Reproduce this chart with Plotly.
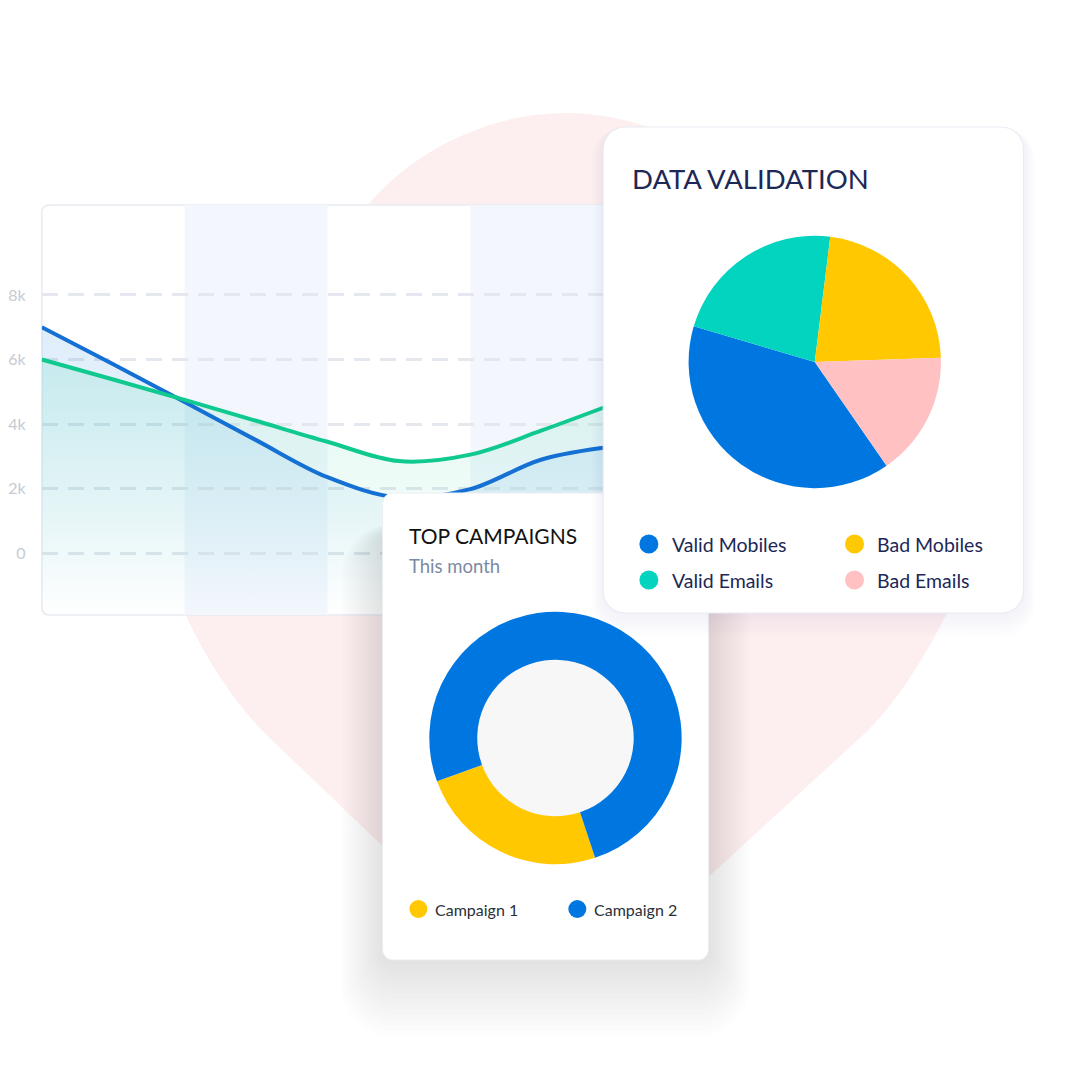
import math
import plotly.graph_objects as go

# ── Canvas ────────────────────────────────────────────────────────────────────
W, H = 1080, 1066
OFF = 8          # page body margin: the figure sits 8px in from the window edge
FONT = "Lato"

# ── Data ──────────────────────────────────────────────────────────────────────
LINE_X = [0, 1, 2, 3, 4, 5, 6, 7, 8]
BLUE_SERIES = [7000, 5850, 4680, 3500, 2350, 1720, 1980, 2900, 3300]
GREEN_SERIES = [6000, 5380, 4750, 4100, 3450, 2850, 3050, 3800, 4620]
Y_TICKS = [0, 2000, 4000, 6000, 8000]
Y_TICK_TEXT = ["0", "2k", "4k", "6k", "8k"]
Y_RANGE = [-1922, 10790]
BANDS = [(2, 4), (6, 8)]

VALIDATION_LABELS = ["Valid Mobiles", "Valid Emails", "Bad Mobiles", "Bad Emails"]
VALIDATION_VALUES = [39.2, 22.4, 22.5, 15.9]
VALIDATION_COLOURS = ["#0077E0", "#03D4BF", "#FFC800", "#FFC1C1"]

CAMPAIGN_LABELS = ["Campaign 1", "Campaign 2"]
CAMPAIGN_VALUES = [24.5, 75.5]
CAMPAIGN_COLOURS = ["#FFC800", "#0077E0"]

# ── Colours ───────────────────────────────────────────────────────────────────
NAVY = "#1D2856"
BLUE_LINE = "#1570D3"
GREEN_LINE = "#10C98F"
PINK_BG = "#FDEFEF"
CARD_BORDER = "#E7EBF1"


def px(x):
    return (x - OFF) / W


def py(y):
    return 1 - (y - OFF) / H


def paper_path(cmds):
    """cmds: list of (letter, [(x, y), ...]) in window pixels -> paper path string."""
    out = []
    for letter, pts in cmds:
        coords = " ".join(f"{px(x):.5f},{py(y):.5f}" for x, y in pts)
        out.append(f"{letter}{coords}")
    return " ".join(out) + " Z"


def rr_paper(x0, y0, x1, y1, r):
    return paper_path([
        ("M", [(x0 + r, y0)]), ("L", [(x1 - r, y0)]), ("Q", [(x1, y0), (x1, y0 + r)]),
        ("L", [(x1, y1 - r)]), ("Q", [(x1, y1), (x1 - r, y1)]), ("L", [(x0 + r, y1)]),
        ("Q", [(x0, y1), (x0, y1 - r)]), ("L", [(x0, y0 + r)]), ("Q", [(x0, y0), (x0 + r, y0)]),
    ])


def rr_points(x0, y0, x1, y1, r, n=10):
    xs, ys = [], []
    corners = [(x1 - r, y0 + r, -90, 0), (x1 - r, y1 - r, 0, 90),
               (x0 + r, y1 - r, 90, 180), (x0 + r, y0 + r, 180, 270)]
    for cx, cy, a0, a1 in corners:
        for i in range(n + 1):
            a = math.radians(a0 + (a1 - a0) * i / n)
            xs.append(cx + r * math.cos(a))
            ys.append(cy + r * math.sin(a))
    xs.append(xs[0])
    ys.append(ys[0])
    return xs, ys


def circle_points(cx, cy, r, n=90):
    xs = [cx + r * math.cos(2 * math.pi * i / n) for i in range(n + 1)]
    ys = [cy + r * math.sin(2 * math.pi * i / n) for i in range(n + 1)]
    return xs, ys


fig = go.Figure()

# ── Line chart (xy) ──────────────────────────────────────────────────────────
base = [Y_RANGE[0]] * len(LINE_X)
for series, rgb in ((BLUE_SERIES, "0,119,224"), (GREEN_SERIES, "16,201,143")):
    fig.add_trace(go.Scatter(x=LINE_X, y=base, mode="lines", line=dict(width=0),
                             hoverinfo="skip", showlegend=False))
    fig.add_trace(go.Scatter(
        x=LINE_X, y=series, mode="lines", fill="tonexty",
        line=dict(width=0, shape="spline", smoothing=1),
        fillgradient=dict(type="vertical", colorscale=[
            [0.0, f"rgba({rgb},0)"], [0.35, f"rgba({rgb},0.05)"], [1.0, f"rgba({rgb},0.13)"]]),
        hoverinfo="skip", showlegend=False))

for series, colour in ((BLUE_SERIES, BLUE_LINE), (GREEN_SERIES, GREEN_LINE)):
    fig.add_trace(go.Scatter(
        x=LINE_X, y=series, mode="lines",
        line=dict(color=colour, width=4, shape="spline", smoothing=1),
        hoverinfo="skip", showlegend=False))

# ── Decoration layer (x2/y2 in window pixels, drawn above the line chart) ─────
def deco(xs, ys, fill, line_colour="rgba(0,0,0,0)", width=0):
    fig.add_trace(go.Scatter(x=xs, y=ys, xaxis="x2", yaxis="y2", mode="lines",
                             fill="toself", fillcolor=fill,
                             line=dict(color=line_colour, width=width),
                             hoverinfo="skip", showlegend=False))


# campaigns card shadow + card
for k in range(1, 15):
    e, dy = 3 * k, 2.5 * k
    deco(*rr_points(378 - e, 530 - e + dy, 706 + e, 960 + e + dy, 12 + e), "rgba(40,40,60,0.0075)")
deco(*rr_points(378, 493, 706, 960, 10), "#FFFFFF", "#ECEEF2", 1)
deco(*circle_points(552, 738, 80), "#F7F7F7")

# data validation card shadow + card
for k in range(1, 7):
    e, dy = 2 * k, 2 * k
    deco(*rr_points(600 - e, 127 - e + dy, 1023 + e, 613 + e + dy, 22 + e), "rgba(40,40,70,0.006)")
deco(*rr_points(600, 127, 1023, 613, 22), "#FFFFFF", CARD_BORDER, 1)

# legend markers
v_x = [646 + 207 * (i // 2) for i in range(len(VALIDATION_LABELS))]
v_y = [544 + 36 * (i % 2) for i in range(len(VALIDATION_LABELS))]
fig.add_trace(go.Scatter(x=v_x, y=v_y, xaxis="x2", yaxis="y2", mode="markers",
                         marker=dict(size=19, color=VALIDATION_COLOURS, line=dict(width=0)),
                         hoverinfo="skip", showlegend=False))
c_x = [414 + 160 * i for i in range(len(CAMPAIGN_LABELS))]
c_y = [909] * len(CAMPAIGN_LABELS)
fig.add_trace(go.Scatter(x=c_x, y=c_y, xaxis="x2", yaxis="y2", mode="markers",
                         marker=dict(size=18, color=CAMPAIGN_COLOURS, line=dict(width=0)),
                         hoverinfo="skip", showlegend=False))

# ── Pies ─────────────────────────────────────────────────────────────────────
fig.add_trace(go.Pie(
    labels=VALIDATION_LABELS, values=VALIDATION_VALUES, sort=False,
    direction="clockwise", rotation=145.3, textinfo="none", hoverinfo="skip",
    marker=dict(colors=VALIDATION_COLOURS, line=dict(width=0)),
    domain=dict(x=[px(686), px(940)], y=[py(489), py(235)]), showlegend=False))
fig.add_trace(go.Pie(
    labels=CAMPAIGN_LABELS, values=CAMPAIGN_VALUES, sort=False, hole=0.62,
    direction="clockwise", rotation=161.7, textinfo="none", hoverinfo="skip",
    marker=dict(colors=CAMPAIGN_COLOURS, line=dict(width=0)),
    domain=dict(x=[px(425), px(679)], y=[py(865), py(611)]), showlegend=False))

# ── Background shapes ────────────────────────────────────────────────────────
pin = paper_path([
    ("M", [(562, 113)]),
    ("C", [(480, 113), (405, 155), (363, 205)]),
    ("L", [(250, 345)]),
    ("C", [(215, 389), (168, 575), (180, 615)]),
    ("C", [(193, 645), (222, 695), (258, 732)]),
    ("L", [(380, 848)]),
    ("Q", [(545, 1005), (706, 877)]),
    ("L", [(865, 732)]),
    ("C", [(902, 695), (930, 645), (945, 615)]),
    ("C", [(957, 575), (910, 389), (875, 345)]),
    ("L", [(762, 205)]),
    ("C", [(720, 155), (645, 113), (562, 113)]),
])
shapes = [
    dict(type="path", path=pin, xref="paper", yref="paper", layer="below",
         fillcolor=PINK_BG, line=dict(width=0)),
    dict(type="path", path=rr_paper(35, 205, 640, 615, 8), xref="paper", yref="paper",
         layer="below", fillcolor="#FFFFFF", line=dict(color=CARD_BORDER, width=1.5)),
]
for x0, x1 in BANDS:
    shapes.append(dict(type="rect", xref="x", yref="y", x0=x0, x1=x1,
                       y0=Y_RANGE[0], y1=Y_RANGE[1], layer="below",
                       fillcolor="#F3F7FD", line=dict(width=0)))

# ── Text ─────────────────────────────────────────────────────────────────────
def note(x, y, text, size, colour):
    return dict(x=x, y=y, xref="x2", yref="y2", text=text, showarrow=False,
                xanchor="left", yanchor="middle",
                font=dict(family=FONT, size=size, color=colour))


annotations = [
    note(627, 178, "DATA VALIDATION", 27.5, NAVY),
    note(403, 535, "TOP CAMPAIGNS", 21, "#121212"),
    note(403, 566, "This month", 18.5, "#7B8AA3"),
]
for lab, x, y in zip(VALIDATION_LABELS, v_x, v_y):
    annotations.append(note(x + 21, y, lab, 19.5, NAVY))
for lab, x, y in zip(CAMPAIGN_LABELS, c_x, c_y):
    annotations.append(note(x + 15, y, lab, 16, "#2B2F38"))

fig.update_layout(
    width=W, height=H,
    margin=dict(l=0, r=0, t=0, b=0),
    paper_bgcolor="#FFFFFF",
    plot_bgcolor="rgba(0,0,0,0)",
    showlegend=False,
    shapes=shapes,
    annotations=annotations,
    xaxis=dict(domain=[px(35), px(610)], range=[0, 8], visible=False, fixedrange=True),
    yaxis=dict(
        domain=[py(615), py(205)], range=Y_RANGE,
        tickvals=Y_TICKS, ticktext=Y_TICK_TEXT,
        ticks="outside", ticklen=12, tickcolor="rgba(0,0,0,0)",
        tickfont=dict(family=FONT, size=16, color="#C6CBD3"),
        showgrid=True, gridcolor="#E4E8EE", gridwidth=3, griddash="16px,10px",
        zeroline=False, showline=False, fixedrange=True,
    ),
    xaxis2=dict(domain=[0, 1], range=[OFF, W + OFF], visible=False, anchor="y2", fixedrange=True),
    yaxis2=dict(domain=[0, 1], range=[H + OFF, OFF], visible=False, anchor="x2", fixedrange=True),
)

fig.write_html("out.html")
